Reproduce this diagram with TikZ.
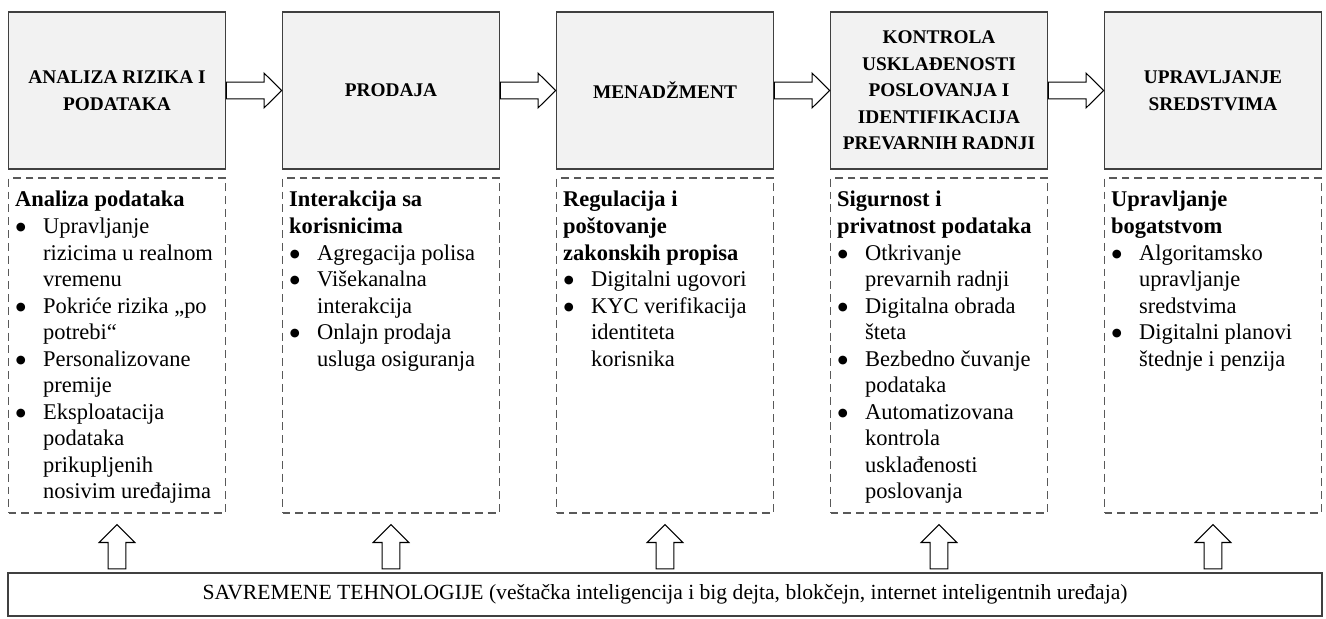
\documentclass[tikz,border=0pt]{standalone}
\usepackage{fontspec}
\setmainfont{Liberation Serif}
\newfontfamily\symfont{DejaVu Sans}
\usetikzlibrary{calc,positioning}

\definecolor{boxfill}{HTML}{F2F2F2}
\definecolor{boxline}{HTML}{404040}
\definecolor{dashline}{HTML}{595959}

\newcommand{\bitem}{\makebox[15.9pt][l]{\hspace{0.4pt}\raisebox{1.6pt}{\symfont\fontsize{6.5}{7}\selectfont ●}}}
\newcommand{\bcont}{\hspace*{15.9pt}}

\begin{document}
\begin{tikzpicture}[
        x=0.02cm, y=-0.02cm,
        stage/.style={draw=boxline, line width=1pt, fill=boxfill, align=center,
            minimum width=4.34cm, minimum height=3.14cm, inner sep=2pt,
            font=\bfseries\fontsize{11}{15.1}\selectfont},
        detail/.style={draw=dashline, line width=0.8pt, dash pattern=on 4.5pt off 2.8pt,
            minimum width=4.34cm, minimum height=6.7cm},
        listtext/.style={anchor=north west, align=left, inner xsep=4pt, inner ysep=7.8pt,
            font=\fontsize{12.8}{15.1}\selectfont},
        harrow/.style={draw=black, fill=white, line width=0.6pt,
            to path={let \p1=(\tikztostart), \p2=(\tikztotarget) in
                (\x1,\y1+4.8pt) -- (\x2-10pt,\y1+4.8pt) -- (\x2-10pt,\y1+9.9pt) -- (\x2,\y1)
                -- (\x2-10pt,\y1-9.9pt) -- (\x2-10pt,\y1-4.8pt) -- (\x1,\y1-4.8pt) -- cycle}},
        varrow/.style={draw=black, fill=white, line width=0.6pt,
            to path={let \p1=(\tikztostart), \p2=(\tikztotarget) in
                (\x1-5.1pt,\y1) -- (\x1-5.1pt,\y2-10.2pt) -- (\x1-10.2pt,\y2-10.2pt) -- (\x1,\y2)
                -- (\x1+10.2pt,\y2-10.2pt) -- (\x1+5.1pt,\y2-10.2pt) -- (\x1+5.1pt,\y1) -- cycle}}
    ]
        \useasboundingbox (0,0) rectangle (1326,619);

        % gornji red
        \node[stage] (s1) at (117,90.5) {ANALIZA RIZIKA I\\PODATAKA};
        \node[stage] (s2) at (391,90.5) {PRODAJA};
        \node[stage] (s3) at (665,90.5) {MENADŽMENT};
        \node[stage] (s4) at (939,90.5) {KONTROLA\\USKLAĐENOSTI\\POSLOVANJA I\\IDENTIFIKACIJA\\PREVARNIH RADNJI};
        \node[stage] (s5) at (1213,90.5) {UPRAVLJANJE\\SREDSTVIMA};
        \foreach \a/\b in {s1/s2,s2/s3,s3/s4,s4/s5} {
            \draw[harrow] (\a.east) to (\b.west);
        }

        % isprekidani okviri
        \node[detail] (d1) at (117,345.5) {};
        \node[detail] (d2) at (391,345.5) {};
        \node[detail] (d3) at (665,345.5) {};
        \node[detail] (d4) at (939,345.5) {};
        \node[detail] (d5) at (1213,345.5) {};

        \node[listtext] (l1) at (d1.north west) {\textbf{Analiza podataka}\\
            \bitem Upravljanje\\ \bcont rizicima u realnom\\ \bcont vremenu\\
            \bitem Pokriće rizika „po\\ \bcont potrebi“\\
            \bitem Personalizovane\\ \bcont premije\\
            \bitem Eksploatacija\\ \bcont podataka\\ \bcont prikupljenih\\ \bcont nosivim uređajima};
        \node[listtext] (l2) at (d2.north west) {\textbf{Interakcija sa}\\ \textbf{korisnicima}\\
            \bitem Agregacija polisa\\
            \bitem Višekanalna\\ \bcont interakcija\\
            \bitem Onlajn prodaja\\ \bcont usluga osiguranja};
        \node[listtext] (l3) at (d3.north west) {\textbf{Regulacija i}\\ \textbf{poštovanje}\\ \textbf{zakonskih propisa}\\
            \bitem Digitalni ugovori\\
            \bitem KYC verifikacija\\ \bcont identiteta\\ \bcont korisnika};
        \node[listtext] (l4) at (d4.north west) {\textbf{Sigurnost i}\\ \textbf{privatnost podataka}\\
            \bitem Otkrivanje\\ \bcont prevarnih radnji\\
            \bitem Digitalna obrada\\ \bcont šteta\\
            \bitem Bezbedno čuvanje\\ \bcont podataka\\
            \bitem Automatizovana\\ \bcont kontrola\\ \bcont usklađenosti\\ \bcont poslovanja};
        \node[listtext] (l5) at (d5.north west) {\textbf{Upravljanje}\\ \textbf{bogatstvom}\\
            \bitem Algoritamsko\\ \bcont upravljanje\\ \bcont sredstvima\\
            \bitem Digitalni planovi\\ \bcont štednje i penzija};

        % donji okvir
        \node[draw=boxline, line width=0.8pt, minimum width=26.28cm, minimum height=0.86cm,
            font=\fontsize{12.3}{15.1}\selectfont] (tech) at (665,594.5)
            {SAVREMENE TEHNOLOGIJE (veštačka inteligencija i big dejta, blokčejn, internet inteligentnih uređaja)};
        \foreach \d in {d1,d2,d3,d4,d5} {
            \draw[varrow] ([yshift=2pt]\d.south |- tech.north) to ([yshift=-6.2pt]\d.south);
        }
    \end{tikzpicture}
\end{document}
